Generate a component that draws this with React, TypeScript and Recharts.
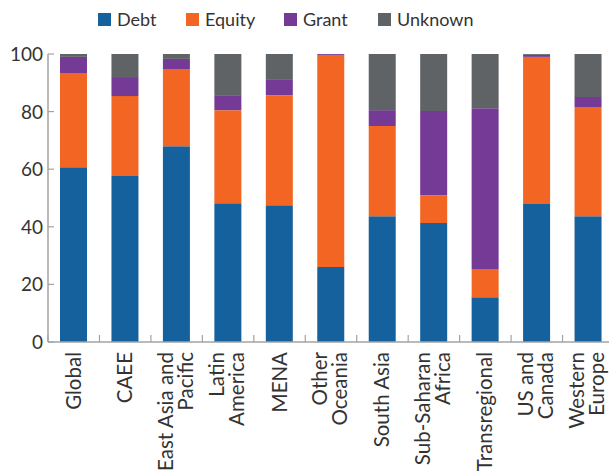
import React from 'react';
import { BarChart, Bar, XAxis, YAxis, Legend } from 'recharts';

const categories = [
  'Global',
  'CAEE',
  'East Asia and\nPacific',
  'Latin\nAmerica',
  'MENA',
  'Other\nOceania',
  'South Asia',
  'Sub-Saharan\nAfrica',
  'Transregional',
  'US and\nCanada',
  'Western\nEurope',
];

const debt = [60.7, 57.6, 68.0, 48.2, 47.5, 26.0, 43.7, 41.3, 15.5, 47.9, 43.7];
const equity = [32.7, 27.8, 26.8, 32.3, 38.2, 73.7, 31.3, 9.7, 9.8, 51.1, 37.9];
const grant = [5.6, 6.6, 3.5, 5.2, 5.3, 0.3, 5.5, 29.2, 55.9, 0.7, 3.5];
const unknown = [1.0, 8.0, 1.7, 14.3, 9.0, 0, 19.5, 19.8, 18.8, 0.3, 14.9];

const yTicks = [0, 20, 40, 60, 80, 100];

const series = [
  { key: 'debt', name: 'Debt', color: '#14619e' },
  { key: 'equity', name: 'Equity', color: '#f26522' },
  { key: 'grant', name: 'Grant', color: '#743a96' },
  { key: 'unknown', name: 'Unknown', color: '#5f6366' },
];

const data = categories.map((c, i) => ({
  name: c,
  debt: debt[i],
  equity: equity[i],
  grant: grant[i],
  unknown: unknown[i],
}));

const W = 620;
const H = 475;
const LEFT = 48;
const RIGHT_M = 6;
const BAND = (W - LEFT - RIGHT_M) / categories.length;
const AXIS = '#a3a3a3';
const TEXT = '#333';
const FONT = 'Lato, "Open Sans", sans-serif';

// legend item widths so the swatches land where the original has them
const legendWidths = [88, 98, 94, 100];

const LeftTick = (props: any) => {
  const { x, y, payload } = props;
  return (
    <g>
      <line x1={x} x2={x + 6} y1={y} y2={y} stroke={AXIS} strokeWidth={1.2} />
      <text x={x - 5} y={y} dy={7} textAnchor="end" fontSize={19} fill={TEXT} fontFamily={FONT}>
        {payload.value}
      </text>
    </g>
  );
};

const RightTick = (props: any) => {
  const { x, y } = props;
  return <line x1={x - 6} x2={x} y1={y} y2={y} stroke={AXIS} strokeWidth={1.2} />;
};

const CatTick = (props: any) => {
  const { x, y, payload } = props;
  const lines = String(payload.value).split('\n');
  const offs = lines.length === 1 ? [7] : [-4, 16];
  return (
    <g>
      <line x1={x - BAND / 2} x2={x - BAND / 2} y1={y} y2={y - 7} stroke={AXIS} strokeWidth={1.2} />
      <text
        transform={`translate(${x},${y + 10}) rotate(-90)`}
        textAnchor="end"
        fontSize={20.5}
        fill={TEXT}
        fontFamily={FONT}
      >
        {lines.map((l, i) => (
          <tspan key={i} x={0} y={offs[i]}>
            {l}
          </tspan>
        ))}
      </text>
    </g>
  );
};

const LegendBox = () => (
  <div style={{ display: 'flex', alignItems: 'center', fontFamily: FONT, fontSize: 18, color: TEXT }}>
    {series.map((s, i) => (
      <div key={s.key} style={{ display: 'flex', alignItems: 'center', width: legendWidths[i] }}>
        <span style={{ width: 13, height: 13, background: s.color, display: 'inline-block', marginRight: 6 }} />
        <span>{s.name}</span>
      </div>
    ))}
  </div>
);

export default function App() {
  return (
    <div style={{ position: 'absolute', left: 0, top: 0, width: 609, height: 475, overflow: 'hidden', background: '#fff' }}>
      <BarChart
        width={W}
        height={H}
        data={data}
        margin={{ top: 54, right: RIGHT_M, left: 0, bottom: 0 }}
        barSize={27}
      >
        <Legend
          verticalAlign="middle"
          content={<LegendBox />}
          wrapperStyle={{ top: 8, left: 98, width: 500 }}
        />
        <XAxis
          dataKey="name"
          height={133}
          interval={0}
          tickSize={0}
          tickMargin={0}
          tickLine={false}
          axisLine={{ stroke: AXIS, strokeWidth: 1.5 }}
          tick={<CatTick />}
        />
        <YAxis
          yAxisId="left"
          width={LEFT}
          domain={[0, 100]}
          ticks={yTicks}
          tickSize={0}
          tickMargin={0}
          tickLine={false}
          axisLine={{ stroke: AXIS, strokeWidth: 1.5 }}
          tick={<LeftTick />}
        />
        <YAxis
          yAxisId="right"
          orientation="right"
          width={0}
          domain={[0, 100]}
          ticks={yTicks}
          tickSize={0}
          tickMargin={0}
          tickLine={false}
          axisLine={false}
          tick={<RightTick />}
        />
        {series.map((s) => (
          <Bar
            key={s.key}
            yAxisId="left"
            dataKey={s.key}
            name={s.name}
            stackId="a"
            fill={s.color}
            isAnimationActive={false}
          />
        ))}
      </BarChart>
    </div>
  );
}
